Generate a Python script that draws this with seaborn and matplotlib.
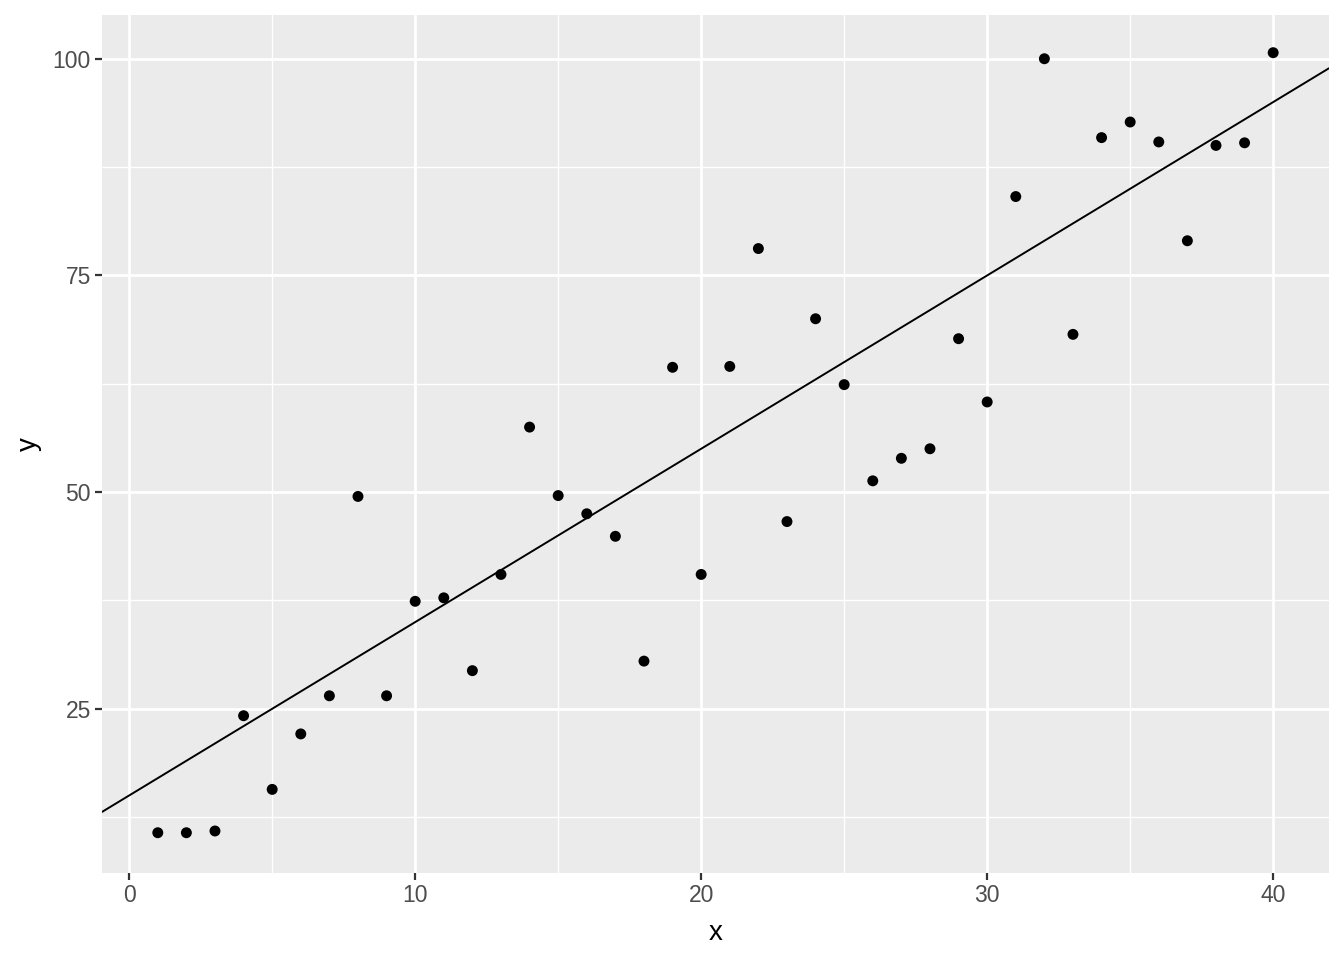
import matplotlib
matplotlib.use("Agg")
import matplotlib.pyplot as plt
import seaborn as sns
import pandas as pd
from matplotlib.ticker import MultipleLocator

# data
x = list(range(1, 41))
y = [10.7, 10.7, 10.9, 24.2, 15.7, 22.1, 26.5, 49.5, 26.5, 37.4,
     37.8, 29.4, 40.5, 57.5, 49.6, 47.5, 44.9, 30.5, 64.4, 40.5,
     64.5, 78.1, 46.6, 70.0, 62.4, 51.3, 53.9, 55.0, 67.7, 60.4,
     84.1, 100.0, 68.2, 90.9, 92.7, 90.4, 79.0, 90.0, 90.3, 100.7]
intercept, slope = 15, 2

df = pd.DataFrame({"x": x, "y": y})

# ggplot-like grey theme
sns.set_theme(style="darkgrid", rc={
    "axes.facecolor": "#EBEBEB",
    "grid.color": "white",
    "axes.edgecolor": "#EBEBEB",
    "xtick.color": "#333333",
    "ytick.color": "#333333",
    "xtick.labelcolor": "#4D4D4D",
    "ytick.labelcolor": "#4D4D4D",
    "xtick.bottom": True,
    "ytick.left": True,
})
plt.rcParams["font.family"] = ["Liberation Sans", "DejaVu Sans"]

fig = plt.figure(figsize=(13.44, 9.6), dpi=100)
ax = fig.add_axes([0.0759, 0.0906, 0.9129, 0.8938])

sns.scatterplot(data=df, x="x", y="y", ax=ax, color="black", s=62,
                edgecolor="none", zorder=3)
ax.axline((0, intercept), slope=slope, color="black", lw=1.4, zorder=2)

ax.set_xlim(-0.95, 41.95)
ax.set_ylim(6.05, 105.05)
ax.xaxis.set_major_locator(MultipleLocator(10))
ax.xaxis.set_minor_locator(MultipleLocator(5))
ax.yaxis.set_major_locator(MultipleLocator(25))
ax.yaxis.set_minor_locator(MultipleLocator(12.5))
ax.grid(which="major", color="white", lw=2.0)
ax.grid(which="minor", color="white", lw=1.0)
ax.tick_params(which="major", length=5, width=1.6, labelsize=16.5, pad=3)
ax.tick_params(which="minor", length=0)
for s in ax.spines.values():
    s.set_visible(False)

ax.set_xlabel("x", fontsize=20, color="black", labelpad=9)
ax.set_ylabel("y", fontsize=20, color="black", labelpad=8)

fig.savefig("out.png", dpi=100)
